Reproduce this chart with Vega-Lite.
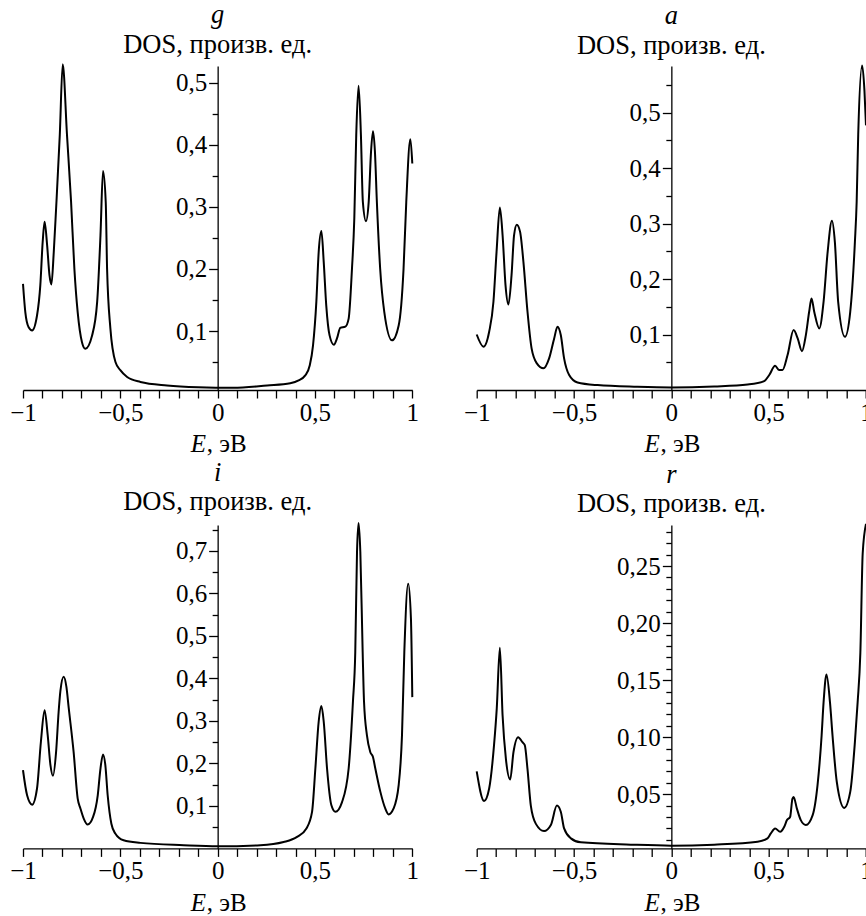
{
  "$schema": "https://vega.github.io/schema/vega-lite/v6.json",
  "padding": {"left": 9, "top": 2, "right": 0, "bottom": 0},
  "background": "white",
  "columns": 2,
  "spacing": {"row": 135, "column": 63.7},
  "bounds": "flush",
  "config": {
    "view": {"stroke": null},
    "font": "Liberation Serif",
    "axis": {
      "domainColor": "black", "tickColor": "black", "labelColor": "black", "titleColor": "black",
      "domainWidth": 1.3, "tickWidth": 1.3, "grid": false,
      "labelFont": "Liberation Serif", "labelFontSize": 25,
      "titleFont": "Liberation Serif", "titleFontSize": 25, "titleFontWeight": "normal",
      "labelOverlap": false, "labelFlush": false, "labelBound": false
    },
    "axisX": {"tickSize": 8, "labelPadding": 2, "titleAlign": "left", "titleBaseline": "alphabetic", "titleY": 61.7, "titleAngle": 0},
    "axisY": {"labelPadding": 2},
    "title": {
      "font": "Liberation Serif", "fontSize": 26.5, "fontStyle": "italic", "fontWeight": "normal", "color": "black",
      "subtitleFont": "Liberation Serif", "subtitleFontSize": 26.5, "subtitleFontStyle": "normal", "subtitleColor": "black",
      "subtitlePadding": 3, "offset": 2, "anchor": "middle", "frame": "group"
    },
    "line": {"color": "black", "strokeWidth": 2, "interpolate": "monotone"}
  },
  "datasets": {
    "g": [
      {"E": -1.0, "DOS": 0.176}, {"E": -0.988, "DOS": 0.13}, {"E": -0.971, "DOS": 0.106}, {"E": -0.953, "DOS": 0.101},
      {"E": -0.928, "DOS": 0.125}, {"E": -0.911, "DOS": 0.174}, {"E": -0.899, "DOS": 0.243}, {"E": -0.889, "DOS": 0.276},
      {"E": -0.876, "DOS": 0.238}, {"E": -0.864, "DOS": 0.19}, {"E": -0.854, "DOS": 0.175}, {"E": -0.842, "DOS": 0.227},
      {"E": -0.83, "DOS": 0.297}, {"E": -0.811, "DOS": 0.416}, {"E": -0.796, "DOS": 0.53}, {"E": -0.774, "DOS": 0.416},
      {"E": -0.753, "DOS": 0.308}, {"E": -0.736, "DOS": 0.2}, {"E": -0.719, "DOS": 0.13}, {"E": -0.697, "DOS": 0.082},
      {"E": -0.68, "DOS": 0.0715}, {"E": -0.645, "DOS": 0.093}, {"E": -0.619, "DOS": 0.147}, {"E": -0.602, "DOS": 0.254},
      {"E": -0.589, "DOS": 0.358}, {"E": -0.575, "DOS": 0.308}, {"E": -0.568, "DOS": 0.2}, {"E": -0.551, "DOS": 0.104},
      {"E": -0.525, "DOS": 0.05}, {"E": -0.5, "DOS": 0.037}, {"E": -0.465, "DOS": 0.026}, {"E": -0.397, "DOS": 0.018},
      {"E": -0.26, "DOS": 0.0124}, {"E": -0.1, "DOS": 0.0095}, {"E": 0.08, "DOS": 0.0085}, {"E": 0.254, "DOS": 0.0124},
      {"E": 0.373, "DOS": 0.016}, {"E": 0.416, "DOS": 0.0205}, {"E": 0.45, "DOS": 0.0285}, {"E": 0.473, "DOS": 0.0445},
      {"E": 0.49, "DOS": 0.077}, {"E": 0.507, "DOS": 0.147}, {"E": 0.519, "DOS": 0.227}, {"E": 0.533, "DOS": 0.261},
      {"E": 0.545, "DOS": 0.211}, {"E": 0.558, "DOS": 0.141}, {"E": 0.575, "DOS": 0.093}, {"E": 0.597, "DOS": 0.078},
      {"E": 0.613, "DOS": 0.088}, {"E": 0.63, "DOS": 0.105}, {"E": 0.656, "DOS": 0.107}, {"E": 0.673, "DOS": 0.12},
      {"E": 0.69, "DOS": 0.2}, {"E": 0.702, "DOS": 0.281}, {"E": 0.712, "DOS": 0.416}, {"E": 0.724, "DOS": 0.495},
      {"E": 0.736, "DOS": 0.416}, {"E": 0.746, "DOS": 0.308}, {"E": 0.762, "DOS": 0.277}, {"E": 0.776, "DOS": 0.308},
      {"E": 0.788, "DOS": 0.389}, {"E": 0.798, "DOS": 0.422}, {"E": 0.808, "DOS": 0.389}, {"E": 0.818, "DOS": 0.308},
      {"E": 0.835, "DOS": 0.2}, {"E": 0.856, "DOS": 0.131}, {"E": 0.896, "DOS": 0.085}, {"E": 0.93, "DOS": 0.109},
      {"E": 0.955, "DOS": 0.2}, {"E": 0.969, "DOS": 0.308}, {"E": 0.99, "DOS": 0.409}, {"E": 1.0, "DOS": 0.37}
    ],
    "a": [
      {"E": -1.0, "DOS": 0.1}, {"E": -0.965, "DOS": 0.078}, {"E": -0.936, "DOS": 0.105}, {"E": -0.914, "DOS": 0.159},
      {"E": -0.898, "DOS": 0.249}, {"E": -0.881, "DOS": 0.329}, {"E": -0.867, "DOS": 0.279}, {"E": -0.852, "DOS": 0.189},
      {"E": -0.837, "DOS": 0.154}, {"E": -0.821, "DOS": 0.207}, {"E": -0.808, "DOS": 0.279}, {"E": -0.794, "DOS": 0.298},
      {"E": -0.777, "DOS": 0.285}, {"E": -0.76, "DOS": 0.231}, {"E": -0.739, "DOS": 0.141}, {"E": -0.718, "DOS": 0.075},
      {"E": -0.691, "DOS": 0.048}, {"E": -0.657, "DOS": 0.039}, {"E": -0.628, "DOS": 0.057}, {"E": -0.602, "DOS": 0.093},
      {"E": -0.585, "DOS": 0.114}, {"E": -0.568, "DOS": 0.099}, {"E": -0.551, "DOS": 0.057}, {"E": -0.525, "DOS": 0.027},
      {"E": -0.482, "DOS": 0.0136}, {"E": -0.379, "DOS": 0.0088}, {"E": -0.175, "DOS": 0.0058}, {"E": 0.0, "DOS": 0.0046},
      {"E": 0.22, "DOS": 0.0064}, {"E": 0.392, "DOS": 0.01}, {"E": 0.477, "DOS": 0.016}, {"E": 0.503, "DOS": 0.027},
      {"E": 0.533, "DOS": 0.0436}, {"E": 0.554, "DOS": 0.036}, {"E": 0.571, "DOS": 0.036}, {"E": 0.597, "DOS": 0.063},
      {"E": 0.628, "DOS": 0.108}, {"E": 0.649, "DOS": 0.093}, {"E": 0.671, "DOS": 0.07}, {"E": 0.691, "DOS": 0.099},
      {"E": 0.708, "DOS": 0.141}, {"E": 0.72, "DOS": 0.165}, {"E": 0.734, "DOS": 0.141}, {"E": 0.76, "DOS": 0.111},
      {"E": 0.782, "DOS": 0.159}, {"E": 0.803, "DOS": 0.249}, {"E": 0.825, "DOS": 0.305}, {"E": 0.84, "DOS": 0.267},
      {"E": 0.857, "DOS": 0.159}, {"E": 0.892, "DOS": 0.096}, {"E": 0.919, "DOS": 0.141}, {"E": 0.943, "DOS": 0.267},
      {"E": 0.952, "DOS": 0.339}, {"E": 0.96, "DOS": 0.46}, {"E": 0.98, "DOS": 0.585}, {"E": 0.992, "DOS": 0.54},
      {"E": 1.0, "DOS": 0.477}
    ],
    "i": [
      {"E": -1.0, "DOS": 0.184}, {"E": -0.979, "DOS": 0.125}, {"E": -0.953, "DOS": 0.103}, {"E": -0.928, "DOS": 0.141},
      {"E": -0.908, "DOS": 0.251}, {"E": -0.889, "DOS": 0.325}, {"E": -0.873, "DOS": 0.266}, {"E": -0.859, "DOS": 0.196},
      {"E": -0.846, "DOS": 0.171}, {"E": -0.83, "DOS": 0.227}, {"E": -0.817, "DOS": 0.321}, {"E": -0.808, "DOS": 0.37},
      {"E": -0.791, "DOS": 0.404}, {"E": -0.777, "DOS": 0.38}, {"E": -0.765, "DOS": 0.33}, {"E": -0.74, "DOS": 0.227},
      {"E": -0.719, "DOS": 0.117}, {"E": -0.705, "DOS": 0.094}, {"E": -0.688, "DOS": 0.07}, {"E": -0.668, "DOS": 0.056},
      {"E": -0.64, "DOS": 0.074}, {"E": -0.616, "DOS": 0.125}, {"E": -0.602, "DOS": 0.188}, {"E": -0.589, "DOS": 0.221},
      {"E": -0.577, "DOS": 0.196}, {"E": -0.565, "DOS": 0.125}, {"E": -0.546, "DOS": 0.058}, {"E": -0.526, "DOS": 0.035},
      {"E": -0.483, "DOS": 0.019}, {"E": -0.397, "DOS": 0.013}, {"E": -0.175, "DOS": 0.0075}, {"E": 0.0, "DOS": 0.005},
      {"E": 0.219, "DOS": 0.0075}, {"E": 0.339, "DOS": 0.015}, {"E": 0.408, "DOS": 0.027}, {"E": 0.456, "DOS": 0.047},
      {"E": 0.485, "DOS": 0.086}, {"E": 0.502, "DOS": 0.188}, {"E": 0.519, "DOS": 0.298}, {"E": 0.533, "DOS": 0.335},
      {"E": 0.545, "DOS": 0.298}, {"E": 0.562, "DOS": 0.188}, {"E": 0.584, "DOS": 0.102}, {"E": 0.605, "DOS": 0.086},
      {"E": 0.639, "DOS": 0.109}, {"E": 0.673, "DOS": 0.188}, {"E": 0.695, "DOS": 0.345}, {"E": 0.707, "DOS": 0.462},
      {"E": 0.716, "DOS": 0.698}, {"E": 0.724, "DOS": 0.766}, {"E": 0.733, "DOS": 0.698}, {"E": 0.745, "DOS": 0.462},
      {"E": 0.752, "DOS": 0.345}, {"E": 0.767, "DOS": 0.266}, {"E": 0.784, "DOS": 0.227}, {"E": 0.798, "DOS": 0.215},
      {"E": 0.81, "DOS": 0.188}, {"E": 0.836, "DOS": 0.133}, {"E": 0.861, "DOS": 0.094}, {"E": 0.878, "DOS": 0.08},
      {"E": 0.904, "DOS": 0.094}, {"E": 0.93, "DOS": 0.149}, {"E": 0.947, "DOS": 0.266}, {"E": 0.959, "DOS": 0.462},
      {"E": 0.979, "DOS": 0.623}, {"E": 0.993, "DOS": 0.541}, {"E": 1.0, "DOS": 0.356}
    ],
    "r": [
      {"E": -1.0, "DOS": 0.07}, {"E": -0.962, "DOS": 0.044}, {"E": -0.936, "DOS": 0.055}, {"E": -0.911, "DOS": 0.093},
      {"E": -0.897, "DOS": 0.125}, {"E": -0.881, "DOS": 0.1785}, {"E": -0.867, "DOS": 0.119}, {"E": -0.85, "DOS": 0.081},
      {"E": -0.828, "DOS": 0.063}, {"E": -0.811, "DOS": 0.087}, {"E": -0.787, "DOS": 0.1}, {"E": -0.765, "DOS": 0.0956},
      {"E": -0.753, "DOS": 0.093}, {"E": -0.739, "DOS": 0.072}, {"E": -0.722, "DOS": 0.04}, {"E": -0.696, "DOS": 0.024},
      {"E": -0.654, "DOS": 0.0177}, {"E": -0.619, "DOS": 0.023}, {"E": -0.588, "DOS": 0.04}, {"E": -0.568, "DOS": 0.0346},
      {"E": -0.551, "DOS": 0.02}, {"E": -0.516, "DOS": 0.0113}, {"E": -0.465, "DOS": 0.0078}, {"E": -0.208, "DOS": 0.0058},
      {"E": 0.0, "DOS": 0.0049}, {"E": 0.22, "DOS": 0.0058}, {"E": 0.443, "DOS": 0.0084}, {"E": 0.494, "DOS": 0.0113},
      {"E": 0.511, "DOS": 0.0156}, {"E": 0.533, "DOS": 0.02}, {"E": 0.559, "DOS": 0.0171}, {"E": 0.58, "DOS": 0.0215},
      {"E": 0.594, "DOS": 0.0273}, {"E": 0.61, "DOS": 0.03}, {"E": 0.622, "DOS": 0.046}, {"E": 0.628, "DOS": 0.0476},
      {"E": 0.645, "DOS": 0.0374}, {"E": 0.665, "DOS": 0.0273}, {"E": 0.691, "DOS": 0.023}, {"E": 0.726, "DOS": 0.0317},
      {"E": 0.751, "DOS": 0.058}, {"E": 0.772, "DOS": 0.1015}, {"E": 0.782, "DOS": 0.1305}, {"E": 0.797, "DOS": 0.155},
      {"E": 0.815, "DOS": 0.1305}, {"E": 0.828, "DOS": 0.1015}, {"E": 0.85, "DOS": 0.0607}, {"E": 0.888, "DOS": 0.038},
      {"E": 0.919, "DOS": 0.052}, {"E": 0.943, "DOS": 0.0956}, {"E": 0.957, "DOS": 0.1305}, {"E": 0.971, "DOS": 0.174},
      {"E": 0.983, "DOS": 0.261}, {"E": 1.0, "DOS": 0.287}
    ],
    "none": []
  },
  "concat": [
    {
      "width": 389.3, "height": 324,
      "title": {"text": "g", "subtitle": "DOS, произв. ед."},
      "resolve": {"axis": {"x": "independent"}},
      "layer": [
        {
          "data": {"name": "g"},
          "mark": "line",
          "encoding": {
            "x": {"field": "E", "type": "quantitative", "scale": {"domain": [-1, 1], "nice": false, "zero": false},
              "axis": {"orient": "bottom", "title": "E", "titleFontStyle": "italic", "titleX": 167.3, "values": [-1, -0.9, -0.8, -0.7, -0.6, -0.5, -0.4, -0.3, -0.2, -0.1, 0, 0.1, 0.2, 0.3, 0.4, 0.5, 0.6, 0.7, 0.8, 0.9, 1],
                "labelExpr": "abs(datum.value*2 - round(datum.value*2)) < 1e-6 ? replace(format(datum.value, '~g'), '.', ',') : ''"}},
            "y": {"field": "DOS", "type": "quantitative", "scale": {"domain": [0.005, 0.527], "nice": false, "zero": false},
              "axis": {"title": null, "offset": -194.65, "values": [0.05, 0.1, 0.15, 0.2, 0.25, 0.3, 0.35, 0.4, 0.45, 0.5],
                "tickSize": {"condition": {"test": "abs(datum.value*10 - round(datum.value*10)) < 1e-6", "value": 9}, "value": 5.5},
                "labelExpr": "abs(datum.value*10 - round(datum.value*10)) < 1e-6 ? replace(format(datum.value, '.1f'), '.', ',') : ''"}}
          }
        },
        {
          "data": {"name": "none"},
          "mark": "line",
          "encoding": {
            "x": {"field": "E", "type": "quantitative", "scale": {"domain": [-1, 1], "nice": false, "zero": false},
              "axis": {"orient": "bottom", "title": ", эВ", "titleX": 183.3, "labels": false, "ticks": false, "domain": false}}
          }
        }
      ]
    },
    {
      "width": 389.3, "height": 324,
      "title": {"text": "a", "subtitle": "DOS, произв. ед."},
      "resolve": {"axis": {"x": "independent"}},
      "layer": [
        {
          "data": {"name": "a"},
          "mark": "line",
          "encoding": {
            "x": {"field": "E", "type": "quantitative", "scale": {"domain": [-1, 1], "nice": false, "zero": false},
              "axis": {"orient": "bottom", "title": "E", "titleFontStyle": "italic", "titleX": 167.3, "values": [-1, -0.9, -0.8, -0.7, -0.6, -0.5, -0.4, -0.3, -0.2, -0.1, 0, 0.1, 0.2, 0.3, 0.4, 0.5, 0.6, 0.7, 0.8, 0.9, 1],
                "labelExpr": "abs(datum.value*2 - round(datum.value*2)) < 1e-6 ? replace(format(datum.value, '~g'), '.', ',') : ''"}},
            "y": {"field": "DOS", "type": "quantitative", "scale": {"domain": [0.0, 0.584], "nice": false, "zero": false},
              "axis": {"title": null, "offset": -194.65, "values": [0.05, 0.1, 0.15, 0.2, 0.25, 0.3, 0.35, 0.4, 0.45, 0.5, 0.55],
                "tickSize": {"condition": {"test": "abs(datum.value*10 - round(datum.value*10)) < 1e-6", "value": 9}, "value": 5.5},
                "labelExpr": "abs(datum.value*10 - round(datum.value*10)) < 1e-6 ? replace(format(datum.value, '.1f'), '.', ',') : ''"}}
          }
        },
        {
          "data": {"name": "none"},
          "mark": "line",
          "encoding": {
            "x": {"field": "E", "type": "quantitative", "scale": {"domain": [-1, 1], "nice": false, "zero": false},
              "axis": {"orient": "bottom", "title": ", эВ", "titleX": 183.3, "labels": false, "ticks": false, "domain": false}}
          }
        }
      ]
    },
    {
      "width": 389.3, "height": 323.4,
      "title": {"text": "i", "subtitle": "DOS, произв. ед."},
      "resolve": {"axis": {"x": "independent"}},
      "layer": [
        {
          "data": {"name": "i"},
          "mark": "line",
          "encoding": {
            "x": {"field": "E", "type": "quantitative", "scale": {"domain": [-1, 1], "nice": false, "zero": false},
              "axis": {"orient": "bottom", "title": "E", "titleFontStyle": "italic", "titleX": 167.3, "values": [-1, -0.9, -0.8, -0.7, -0.6, -0.5, -0.4, -0.3, -0.2, -0.1, 0, 0.1, 0.2, 0.3, 0.4, 0.5, 0.6, 0.7, 0.8, 0.9, 1],
                "labelExpr": "abs(datum.value*2 - round(datum.value*2)) < 1e-6 ? replace(format(datum.value, '~g'), '.', ',') : ''"}},
            "y": {"field": "DOS", "type": "quantitative", "scale": {"domain": [0.0, 0.761], "nice": false, "zero": false},
              "axis": {"title": null, "offset": -194.65, "values": [0.05, 0.1, 0.15, 0.2, 0.25, 0.3, 0.35, 0.4, 0.45, 0.5, 0.55, 0.6, 0.65, 0.7, 0.75],
                "tickSize": {"condition": {"test": "abs(datum.value*10 - round(datum.value*10)) < 1e-6", "value": 9}, "value": 5.5},
                "labelExpr": "abs(datum.value*10 - round(datum.value*10)) < 1e-6 ? replace(format(datum.value, '.1f'), '.', ',') : ''"}}
          }
        },
        {
          "data": {"name": "none"},
          "mark": "line",
          "encoding": {
            "x": {"field": "E", "type": "quantitative", "scale": {"domain": [-1, 1], "nice": false, "zero": false},
              "axis": {"orient": "bottom", "title": ", эВ", "titleX": 183.3, "labels": false, "ticks": false, "domain": false}}
          }
        }
      ]
    },
    {
      "width": 389.3, "height": 323.4,
      "title": {"text": "r", "subtitle": "DOS, произв. ед."},
      "resolve": {"axis": {"x": "independent"}},
      "layer": [
        {
          "data": {"name": "r"},
          "mark": "line",
          "encoding": {
            "x": {"field": "E", "type": "quantitative", "scale": {"domain": [-1, 1], "nice": false, "zero": false},
              "axis": {"orient": "bottom", "title": "E", "titleFontStyle": "italic", "titleX": 167.3, "values": [-1, -0.9, -0.8, -0.7, -0.6, -0.5, -0.4, -0.3, -0.2, -0.1, 0, 0.1, 0.2, 0.3, 0.4, 0.5, 0.6, 0.7, 0.8, 0.9, 1],
                "labelExpr": "abs(datum.value*2 - round(datum.value*2)) < 1e-6 ? replace(format(datum.value, '~g'), '.', ',') : ''"}},
            "y": {"field": "DOS", "type": "quantitative", "scale": {"domain": [0.0025, 0.286], "nice": false, "zero": false},
              "axis": {"title": null, "offset": -194.65, "values": [0.01, 0.02, 0.03, 0.04, 0.05, 0.06, 0.07, 0.08, 0.09, 0.1, 0.11, 0.12, 0.13, 0.14, 0.15, 0.16, 0.17, 0.18, 0.19, 0.2, 0.21, 0.22, 0.23, 0.24, 0.25, 0.26, 0.27, 0.28],
                "tickSize": {"condition": {"test": "abs(datum.value*20 - round(datum.value*20)) < 1e-6", "value": 9}, "value": 5.5},
                "labelExpr": "abs(datum.value*20 - round(datum.value*20)) < 1e-6 ? replace(format(datum.value, '.2f'), '.', ',') : ''"}}
          }
        },
        {
          "data": {"name": "none"},
          "mark": "line",
          "encoding": {
            "x": {"field": "E", "type": "quantitative", "scale": {"domain": [-1, 1], "nice": false, "zero": false},
              "axis": {"orient": "bottom", "title": ", эВ", "titleX": 183.3, "labels": false, "ticks": false, "domain": false}}
          }
        }
      ]
    }
  ]
}
